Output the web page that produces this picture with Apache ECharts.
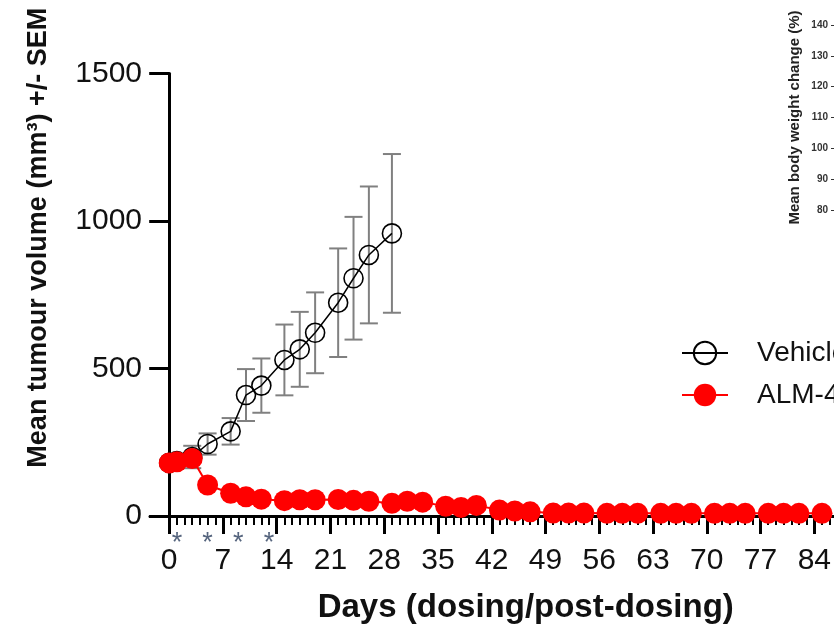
<!DOCTYPE html>
<html>
<head>
<meta charset="utf-8">
<script src="https://cdn.jsdelivr.net/npm/echarts@6/dist/echarts.min.js"></script>
<style>
  html, body { margin: 0; padding: 0; background: #fff; }
  #chart { width: 834px; height: 635px; }
</style>
</head>
<body>
<div id="chart"></div>
<script>
// days of measurement
var vehicleDays = [0, 1, 3, 5, 8, 10, 12, 15, 17, 19, 22, 24, 26, 29];
var vehicleMean = [180, 186, 200, 244, 287, 410, 442, 529, 565, 621, 723, 806, 885, 958];
var vehicleSem = [12, 15, 38, 36, 45, 88, 92, 120, 127, 137, 184, 208, 232, 269];

var almDays = [0, 1, 3, 5, 8, 10, 12, 15, 17, 19, 22, 24, 26, 29, 31, 33, 36, 38, 40, 43, 45, 47,
  50, 52, 54, 57, 59, 61, 64, 66, 68, 71, 73, 75, 78, 80, 82, 85];
var almMean = [180, 184, 195, 105, 77, 65, 57, 52, 55, 55, 56, 53, 50, 43, 50, 47, 33, 29, 36, 20, 17, 14,
  10, 10, 10, 9, 9, 9, 9, 9, 9, 9, 9, 9, 9, 9, 9, 9];

var dayTicks = [0, 7, 14, 21, 28, 35, 42, 49, 56, 63, 70, 77, 84];
var starDays = [1, 5, 9, 13];

var minorDays = [];
for (var d = 1; d <= 86; d++) {
  if (d % 7 !== 0) minorDays.push(d);
}

var vehPoints = vehicleDays.map(function (x, i) { return [x, vehicleMean[i]]; });
var almPoints = almDays.map(function (x, i) { return [x, almMean[i]]; });
var errPoints = vehicleDays.map(function (x, i) {
  return [x, vehicleMean[i] - vehicleSem[i], vehicleMean[i] + vehicleSem[i]];
});

var chart = echarts.init(document.getElementById('chart'));
var font = 'Liberation Sans, Arial, sans-serif';

var option = {
  animation: false,
  textStyle: { fontFamily: font },
  grid: [
    { left: 150, top: 73.5, right: 0, bottom: 119 },
    { left: 836, top: 25, width: 40, height: 185 }
  ],
  legend: {
    orient: 'vertical',
    left: 676,
    top: 334,
    itemWidth: 46,
    itemHeight: 28,
    itemGap: 14,
    textStyle: { fontSize: 28, color: '#111', fontFamily: font, padding: [0, 0, 0, 24] },
    data: ['Vehicle', 'ALM-4']
  },
  xAxis: [
    {
      type: 'value', gridIndex: 0, min: -2.5, max: 86.5,
      name: 'Days (dosing/post-dosing)',
      nameLocation: 'middle',
      nameGap: 75,
      nameTextStyle: { fontSize: 33, fontWeight: 'bold', color: '#111', padding: [0, 0, 0, 68] },
      splitLine: { show: false },
      axisLine: { lineStyle: { color: '#000', width: 3 } },
      axisTick: { customValues: dayTicks, length: 18, lineStyle: { color: '#000', width: 3 } },
      axisLabel: { customValues: dayTicks, fontSize: 30, color: '#111', margin: 30 }
    },
    {
      type: 'value', gridIndex: 0, min: -2.5, max: 86.5, position: 'bottom',
      splitLine: { show: false },
      axisLine: { show: false },
      axisTick: { customValues: minorDays, length: 9, lineStyle: { color: '#000', width: 2 } },
      axisLabel: { show: false }
    },
    {
      type: 'value', gridIndex: 0, min: -2.5, max: 86.5, position: 'bottom',
      splitLine: { show: false },
      axisLine: { show: false },
      axisTick: { show: false },
      axisLabel: {
        customValues: starDays, fontSize: 27, color: '#56657e', margin: 14,
        formatter: function () { return '*'; }
      }
    },
    { type: 'value', gridIndex: 1, show: false }
  ],
  yAxis: [
    {
      type: 'value', gridIndex: 0, min: 0, max: 1500, interval: 500,
      name: 'Mean tumour volume (mm\u00b3) +/- SEM',
      nameLocation: 'middle',
      nameGap: 98,
      nameTextStyle: { fontSize: 27, fontWeight: 'bold', color: '#111', padding: [0, 0, 0, 114] },
      splitLine: { show: false },
      axisLine: { onZero: true, lineStyle: { color: '#000', width: 3 } },
      axisTick: { length: 20, lineStyle: { color: '#000', width: 3 } },
      axisLabel: {
        fontSize: 30, color: '#111', margin: 8,
        formatter: function (v) { return String(v); }
      }
    },
    {
      type: 'value', gridIndex: 1, min: 80, max: 140, interval: 10,
      name: 'Mean body weight change (%)',
      nameLocation: 'middle',
      nameGap: 34,
      nameTextStyle: { fontSize: 15, fontWeight: 'bold', color: '#222' },
      splitLine: { show: false },
      axisLine: { lineStyle: { color: '#000', width: 1 } },
      axisTick: { length: 5, lineStyle: { color: '#333' } },
      axisLabel: { fontSize: 10, fontWeight: 'bold', color: '#333', margin: 8 }
    }
  ],
  series: [
    {
      name: 'Vehicle SEM',
      type: 'custom',
      xAxisIndex: 0,
      yAxisIndex: 0,
      z: 1,
      data: errPoints,
      renderItem: function (params, api) {
        var x = api.value(0);
        var lo = api.coord([x, api.value(1)]);
        var hi = api.coord([x, api.value(2)]);
        var cap = 9;
        var style = { stroke: '#808080', lineWidth: 2 };
        return {
          type: 'group',
          children: [
            { type: 'line', shape: { x1: lo[0], y1: lo[1], x2: hi[0], y2: hi[1] }, style: style },
            { type: 'line', shape: { x1: lo[0] - cap, y1: lo[1], x2: lo[0] + cap, y2: lo[1] }, style: style },
            { type: 'line', shape: { x1: hi[0] - cap, y1: hi[1], x2: hi[0] + cap, y2: hi[1] }, style: style }
          ]
        };
      }
    },
    {
      name: 'Vehicle',
      type: 'line',
      xAxisIndex: 0,
      yAxisIndex: 0,
      z: 3,
      clip: false,
      data: vehPoints,
      symbol: 'circle',
      symbolSize: 19,
      lineStyle: { color: '#000', width: 1.5 },
      itemStyle: { color: 'rgba(0,0,0,0)', borderColor: '#000', borderWidth: 1.6 }
    },
    {
      name: 'ALM-4',
      type: 'line',
      xAxisIndex: 0,
      yAxisIndex: 0,
      z: 4,
      clip: false,
      data: almPoints,
      symbol: 'circle',
      symbolSize: 21,
      lineStyle: { color: '#ff0000', width: 2 },
      itemStyle: { color: '#ff0000' }
    }
  ]
};

chart.setOption(option);
</script>
</body>
</html>
